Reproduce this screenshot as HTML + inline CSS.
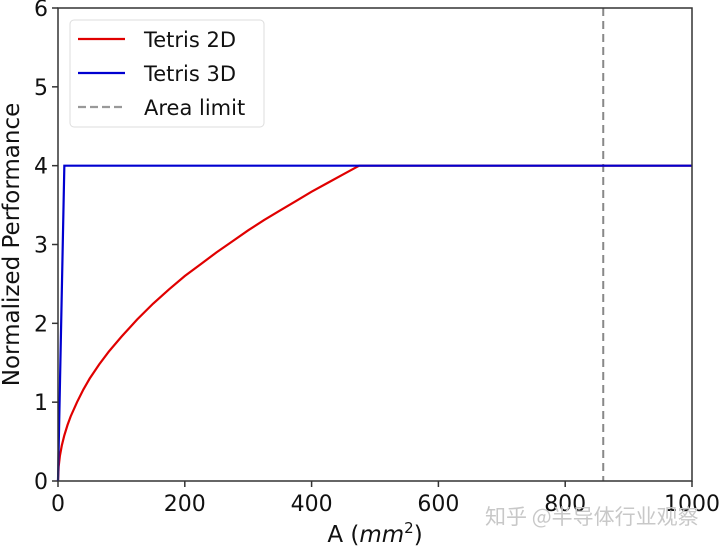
<!DOCTYPE html>
<html><head><meta charset="utf-8"><style>
body{margin:0;background:#fff;width:720px;height:547px;overflow:hidden}
svg text{font-family:"DejaVu Sans","Liberation Sans",sans-serif;fill:#111}
</style></head><body>
<svg id="chart" width="720" height="547">
<g id="plot"></g>
<text x="485" y="524" font-family="'Noto Sans CJK SC',sans-serif" font-size="21" style="fill:#c8c8c8;font-family:'Noto Sans CJK SC',sans-serif">知乎 @半导体行业观察</text>
</svg>
<script>
const xTicks=[0,200,400,600,800,1000];
const yTicks=[0,1,2,3,4,5,6];
const t2dX=[0,1,3,6,10,15,20,30,40,50,65,80,100,125,150,175,200,225,250,275,300,325,350,375,400,425,450,475,1000];
const t2dY=[0,0.18,0.32,0.45,0.58,0.71,0.82,1.0,1.16,1.3,1.48,1.64,1.83,2.05,2.25,2.43,2.6,2.75,2.9,3.04,3.18,3.31,3.43,3.55,3.67,3.78,3.89,4,4];
const t3dX=[0,10,1000];
const t3dY=[0,4,4];
const areaLimit=860;
const L=58,R=692,T=8,B=481;
const sx=v=>L+(v-0)/1000*(R-L), sy=v=>B-v/6*(B-T);
const ns="http://www.w3.org/2000/svg", g=document.getElementById('plot');
function mk(tag,attrs,parent){const e=document.createElementNS(ns,tag);for(const k in attrs)e.setAttribute(k,attrs[k]);(parent||g).appendChild(e);return e;}
xTicks.forEach(v=>{
 const l=mk('line',{x1:sx(v),x2:sx(v),y1:B,y2:B+6,stroke:'#333','stroke-width':1.5});
 
 
 const t=mk('text',{x:sx(v),y:B+30,'text-anchor':'middle','font-size':22});t.textContent=v;
 
 
});
yTicks.forEach(v=>{
 const l=mk('line',{x1:L-6,x2:L,y1:sy(v),y2:sy(v),stroke:'#333','stroke-width':1.5});
 
 
 const t=mk('text',{x:L-10,y:sy(v)+8,'text-anchor':'end','font-size':22});t.textContent=v;
 
 
});
const lim=mk('line',{x1:sx(areaLimit),x2:sx(areaLimit),y1:T,y2:B,stroke:'#888','stroke-width':2,'stroke-dasharray':'8,5'});


const p2=mk('polyline',{points:t2dX.map((x,i)=>sx(x)+','+sy(t2dY[i])).join(' '),fill:'none',stroke:'#e00000','stroke-width':2.2});


const p3=mk('polyline',{points:t3dX.map((x,i)=>sx(x)+','+sy(t3dY[i])).join(' '),fill:'none',stroke:'#0000d0','stroke-width':2.2});


const fr=mk('rect',{x:L,y:T,width:R-L,height:B-T,fill:'none',stroke:'#333','stroke-width':1.5});


const xl=mk('text',{x:(L+R)/2,y:542,'text-anchor':'middle','font-size':23});
xl.innerHTML='A (<tspan font-style="italic">mm</tspan><tspan font-size="15" dy="-9">2</tspan><tspan dy="9">)</tspan>';


const yl=mk('text',{x:0,y:0,'text-anchor':'middle','font-size':23,transform:'translate(19,'+((T+B)/2)+') rotate(-90)'});
yl.textContent='Normalized Performance';


const lg=mk('g',{});


mk('rect',{x:70,y:20,width:194,height:107,rx:4,fill:'#fff','fill-opacity':0.9,stroke:'#ddd'},lg);
const items=[['Tetris 2D','#e00000',''],['Tetris 3D','#0000d0',''],['Area limit','#999','8,4']];
items.forEach((it,i)=>{
 const y=39+i*34;
 const e=mk('g',{},lg);
 
 
 mk('line',{x1:78,x2:125,y1:y,y2:y,stroke:it[1],'stroke-width':2.2,'stroke-dasharray':it[2]},e);
 const t=mk('text',{x:144,y:y+8,'font-size':21},e);t.textContent=it[0];
});
</script>
</body></html>
